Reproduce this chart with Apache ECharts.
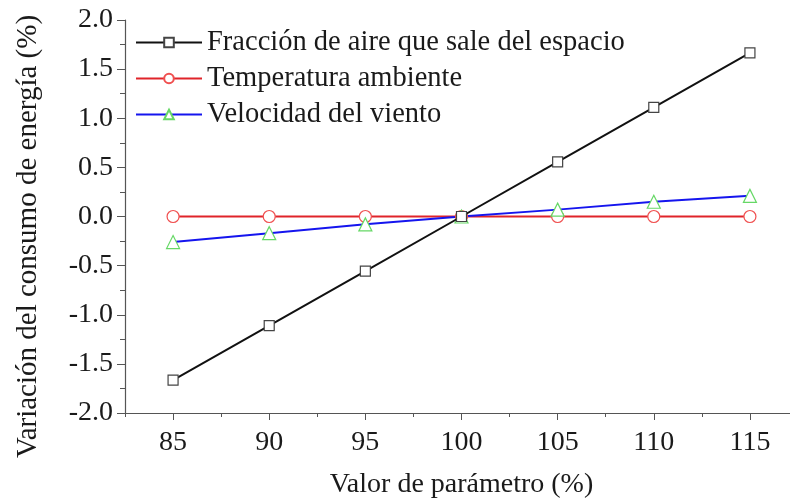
<!DOCTYPE html>
<html>
<head>
<meta charset="utf-8">
<script src="https://cdn.jsdelivr.net/npm/echarts@6/dist/echarts.min.js"></script>
<style>html,body{margin:0;padding:0;background:#fff}#c{width:790px;height:502px}</style>
</head>
<body>
<div id="c"></div>
<script>
var xValues = [85, 90, 95, 100, 105, 110, 115];
var xTickLabels = [85, 90, 95, 100, 105, 110, 115];
var xMinorTicks = [82.5, 87.5, 92.5, 97.5, 102.5, 107.5, 112.5, 117.5];
var seriesNames = ['Fracción de aire que sale del espacio', 'Temperatura ambiente', 'Velocidad del viento'];
var fraccion = [-1.665, -1.11, -0.555, 0, 0.555, 1.11, 1.665];
var temperatura = [0, 0, 0, 0, 0, 0, 0];
var velocidad = [-0.26, -0.17, -0.08, 0, 0.07, 0.15, 0.21];

var font = 'Liberation Serif, Times New Roman, serif';
var txt = '#1a1a1a';
var axisCol = '#555';
var fs = 28;

function pairs(v){ return xValues.map(function(x,i){ return [x, v[i]]; }); }

var chart = echarts.init(document.getElementById('c'), null, {renderer:'canvas'});
chart.setOption({
  animation: false,
  backgroundColor: '#fff',
  grid: {left: 125, top: 20, bottom: 89, width: 673, containLabel: false, outerBoundsMode: 'none'},
  legend: {
    orient: 'vertical', left: 135, top: 28, padding: 0,
    itemWidth: 66, itemHeight: 12, itemGap: 7,
    textStyle: {fontFamily: font, fontSize: 28.5, color: txt},
    data: seriesNames
  },
  xAxis: [{
    type: 'value', min: 82.5, max: 117.5,
    name: 'Valor de parámetro (%)', nameLocation: 'middle', nameGap: 58,
    nameTextStyle: {fontFamily: font, fontSize: fs, color: txt, padding:[0,0,0,0]},
    axisLine: {show: true, onZero: false, lineStyle: {color: axisCol, width: 1.2}},
    axisTick: {show: true, length: 7, lineStyle: {color: axisCol}, customValues: xTickLabels},
    axisLabel: {fontFamily: font, fontSize: fs, color: txt, margin: 16, customValues: xTickLabels},
    splitLine: {show: false}
  }, {
    type: 'value', min: 82.5, max: 117.5, position: 'bottom',
    axisLine: {show: false, onZero: false},
    axisTick: {show: true, length: 4, lineStyle: {color: axisCol}, customValues: xMinorTicks},
    axisLabel: {show: false, customValues: xMinorTicks},
    splitLine: {show: false}
  }],
  yAxis: {
    type: 'value', min: -2, max: 2, interval: 0.5,
    name: 'Variación del consumo de energía (%)', nameLocation: 'middle', nameGap: 82,
    nameTextStyle: {fontFamily: font, fontSize: 29, color: txt, padding:[0,40,0,0]},
    axisLine: {show: true, onZero: false, lineStyle: {color: axisCol, width: 1.2}},
    axisTick: {show: true, length: 8, lineStyle: {color: axisCol}},
    minorTick: {show: true, splitNumber: 2, length: 5, lineStyle: {color: axisCol}},
    axisLabel: {fontFamily: font, fontSize: fs, color: txt, margin: 12, formatter: function(v){ return v.toFixed(1); }},
    splitLine: {show: false}
  },
  series: [{
    name: seriesNames[0], type: 'line', data: pairs(fraccion),
    symbol: 'rect', symbolSize: 10,
    lineStyle: {color: '#111', width: 2},
    itemStyle: {color: '#fff', borderColor: '#444', borderWidth: 1.2},
    z: 3
  }, {
    name: seriesNames[1], type: 'line', data: pairs(temperatura),
    symbol: 'circle', symbolSize: 12,
    lineStyle: {color: '#e0242a', width: 2},
    itemStyle: {color: '#fff', borderColor: '#f05050', borderWidth: 1.2},
    z: 2
  }, {
    name: seriesNames[2], type: 'line', data: pairs(velocidad),
    symbol: 'triangle', symbolSize: 13,
    lineStyle: {color: '#1515ee', width: 2},
    itemStyle: {color: '#fff', borderColor: '#66d866', borderWidth: 1.2},
    z: 2
  }]
});
</script>
</body>
</html>
